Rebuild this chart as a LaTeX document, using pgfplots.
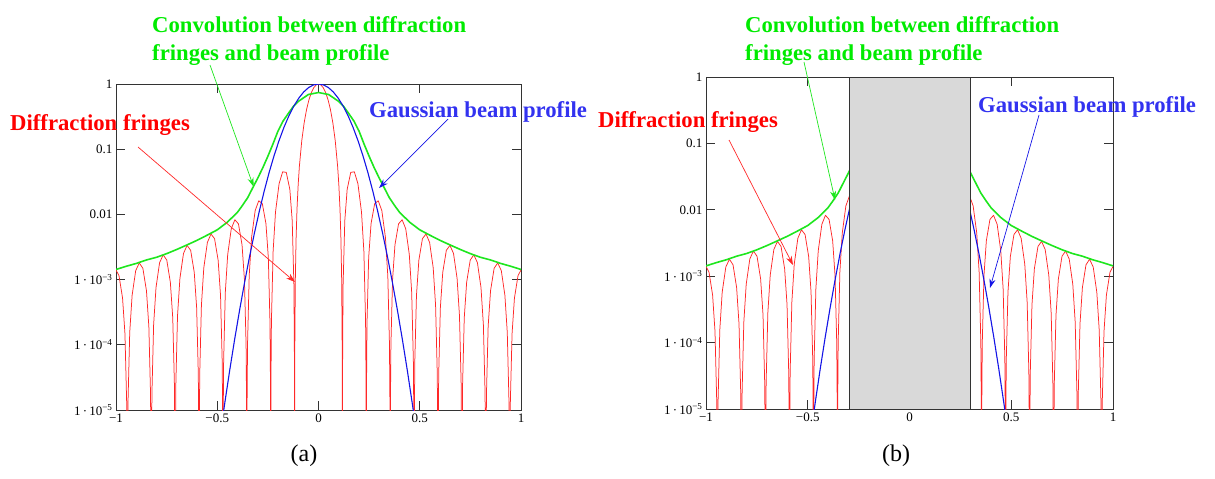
\documentclass[border=0pt]{standalone}
\usepackage{fontspec}
\setmainfont{Liberation Serif}
\usepackage{pgfplots}
\pgfplotsset{compat=1.18}
\usepackage{pgfplotstable}
\usetikzlibrary{arrows.meta}
\definecolor{cred}{RGB}{255,0,0}
\definecolor{cline}{RGB}{255,40,40}
\definecolor{cgreen}{RGB}{0,235,0}
\definecolor{cgline}{RGB}{30,230,30}
\definecolor{cblue}{RGB}{50,50,240}
\definecolor{cbline}{RGB}{20,20,230}
\definecolor{cgray}{RGB}{217,217,217}

\pgfplotstableread{
x y
0 1
0.0118 0.9675
0.0236 0.875
0.0354 0.7368
0.0472 0.5728
0.059 0.4053
0.0708 0.2546
0.0826 0.1353
0.0944 0.0547
0.1003 0.02889
0.1062 0.01195
0.1109 0.004025
0.1145 9.53e-4
0.1168 1.02e-4
0.118 1e-8
0.11918 9.80e-5
0.12154 8.45e-4
0.1298 8.00e-3
0.1416 0.02431
0.1593 0.04414
0.177 0.04503
0.1947 0.02955
0.2124 0.01080
0.2242 2.680e-3
0.23246 2.311e-4
0.23482 2.525e-5
0.236 1e-8
0.23718 2.475e-5
0.23954 2.176e-4
0.2478 2.194e-3
0.2596 7.233e-3
0.2773 0.014566
0.295 0.016211
0.3127 0.011455
0.3304 4.465e-3
0.3422 1.1505e-3
0.35046 1.0166e-4
0.35282 1.1186e-5
0.354 1e-8
0.35518 1.1038e-5
0.35754 9.767e-5
0.3658 1.0069e-3
0.3776 3.4186e-3
0.3953 7.168e-3
0.413 8.271e-3
0.4307 6.038e-3
0.4484 2.4243e-3
0.4602 6.362e-4
0.46846 5.689e-5
0.47082 6.282e-6
0.472 1e-8
0.47318 6.219e-6
0.47554 5.521e-5
0.4838 5.756e-4
0.4956 1.9845e-3
0.5133 4.251e-3
0.531 5.004e-3
0.5487 3.720e-3
0.5664 1.5194e-3
0.5782 4.030e-4
0.58646 3.630e-5
0.58882 4.016e-6
0.59 1e-8
0.59118 3.984e-6
0.59354 3.544e-5
0.6018 3.720e-4
0.6136 1.2946e-3
0.6313 2.810e-3
0.649 3.3495e-3
0.6667 2.5199e-3
0.6844 1.0406e-3
0.6962 2.780e-4
0.70446 2.516e-5
0.70682 2.787e-6
0.708 1e-8
0.70918 2.769e-6
0.71154 2.466e-5
0.7198 2.600e-4
0.7316 9.107e-4
0.7493 1.9949e-3
0.767 2.3981e-3
0.7847 1.8190e-3
0.8024 7.571e-4
0.8142 2.032e-4
0.82246 1.8458e-5
0.82482 2.047e-6
0.826 1e-8
0.82718 2.035e-6
0.82954 1.8144e-5
0.8378 1.9195e-4
0.8496 6.753e-4
0.8673 1.4890e-3
0.885 1.8013e-3
0.9027 1.3745e-3
0.9204 5.754e-4
0.9322 1.5504e-4
0.94046 1.4117e-5
0.94282 1.5665e-6
0.944 1e-8
0.94518 1.5587e-6
0.94754 1.3906e-5
0.9558 1.4748e-4
0.9676 5.206e-4
0.9853 1.1537e-3
1.0 1.4020e-3
}\redpos

\pgfplotstableread{
x y
0 1
-0.0118 0.9675
-0.0236 0.875
-0.0354 0.7368
-0.0472 0.5728
-0.059 0.4053
-0.0708 0.2546
-0.0826 0.1353
-0.0944 0.0547
-0.1003 0.02889
-0.1062 0.01195
-0.1109 0.004025
-0.1145 9.53e-4
-0.1168 1.02e-4
-0.118 1e-8
-0.11918 9.80e-5
-0.12154 8.45e-4
-0.1298 8.00e-3
-0.1416 0.02431
-0.1593 0.04414
-0.177 0.04503
-0.1947 0.02955
-0.2124 0.01080
-0.2242 2.680e-3
-0.23246 2.311e-4
-0.23482 2.525e-5
-0.236 1e-8
-0.23718 2.475e-5
-0.23954 2.176e-4
-0.2478 2.194e-3
-0.2596 7.233e-3
-0.2773 0.014566
-0.295 0.016211
-0.3127 0.011455
-0.3304 4.465e-3
-0.3422 1.1505e-3
-0.35046 1.0166e-4
-0.35282 1.1186e-5
-0.354 1e-8
-0.35518 1.1038e-5
-0.35754 9.767e-5
-0.3658 1.0069e-3
-0.3776 3.4186e-3
-0.3953 7.168e-3
-0.413 8.271e-3
-0.4307 6.038e-3
-0.4484 2.4243e-3
-0.4602 6.362e-4
-0.46846 5.689e-5
-0.47082 6.282e-6
-0.472 1e-8
-0.47318 6.219e-6
-0.47554 5.521e-5
-0.4838 5.756e-4
-0.4956 1.9845e-3
-0.5133 4.251e-3
-0.531 5.004e-3
-0.5487 3.720e-3
-0.5664 1.5194e-3
-0.5782 4.030e-4
-0.58646 3.630e-5
-0.58882 4.016e-6
-0.59 1e-8
-0.59118 3.984e-6
-0.59354 3.544e-5
-0.6018 3.720e-4
-0.6136 1.2946e-3
-0.6313 2.810e-3
-0.649 3.3495e-3
-0.6667 2.5199e-3
-0.6844 1.0406e-3
-0.6962 2.780e-4
-0.70446 2.516e-5
-0.70682 2.787e-6
-0.708 1e-8
-0.70918 2.769e-6
-0.71154 2.466e-5
-0.7198 2.600e-4
-0.7316 9.107e-4
-0.7493 1.9949e-3
-0.767 2.3981e-3
-0.7847 1.8190e-3
-0.8024 7.571e-4
-0.8142 2.032e-4
-0.82246 1.8458e-5
-0.82482 2.047e-6
-0.826 1e-8
-0.82718 2.035e-6
-0.82954 1.8144e-5
-0.8378 1.9195e-4
-0.8496 6.753e-4
-0.8673 1.4890e-3
-0.885 1.8013e-3
-0.9027 1.3745e-3
-0.9204 5.754e-4
-0.9322 1.5504e-4
-0.94046 1.4117e-5
-0.94282 1.5665e-6
-0.944 1e-8
-0.94518 1.5587e-6
-0.94754 1.3906e-5
-0.9558 1.4748e-4
-0.9676 5.206e-4
-0.9853 1.1537e-3
-1.0 1.4020e-3
}\redneg

\pgfplotstableread{
x y
-0.4875 3.73e-6
-0.4631 1.262e-5
-0.4388 4.009e-5
-0.4144 1.196e-4
-0.39 3.355e-4
-0.3656 8.84e-4
-0.3413 2.187e-3
-0.3169 5.088e-3
-0.2925 0.01111
-0.2681 0.02280
-0.2438 0.04394
-0.2194 0.0796
-0.195 0.1353
-0.1706 0.2163
-0.1463 0.3247
-0.1219 0.4578
-0.0975 0.6065
-0.0731 0.7548
-0.0488 0.8825
-0.0244 0.9692
0 1
0.0244 0.9692
0.0488 0.8825
0.0731 0.7548
0.0975 0.6065
0.1219 0.4578
0.1463 0.3247
0.1706 0.2163
0.195 0.1353
0.2194 0.0796
0.2438 0.04394
0.2681 0.02280
0.2925 0.01111
0.3169 5.088e-3
0.3413 2.187e-3
0.3656 8.84e-4
0.39 3.355e-4
0.4144 1.196e-4
0.4388 4.009e-5
0.4631 1.262e-5
0.4875 3.73e-6
}\gauss

\pgfplotstableread{
x y
-1.0 0.00143
-0.95 0.00160
-0.9 0.00177
-0.85 0.0020
-0.8 0.0022
-0.75 0.0025
-0.7 0.0029
-0.65 0.0034
-0.6 0.0040
-0.55 0.0048
-0.5 0.0058
-0.45 0.0076
-0.4 0.0108
-0.375 0.0138
-0.35 0.018
-0.325 0.0255
-0.3 0.036
-0.275 0.052
-0.25 0.078
-0.225 0.12
-0.2 0.19
-0.175 0.27
-0.15 0.35
-0.125 0.45
-0.1 0.54
-0.05 0.69
0 0.74
0.05 0.69
0.1 0.54
0.125 0.45
0.15 0.35
0.175 0.27
0.2 0.19
0.225 0.12
0.25 0.078
0.275 0.052
0.3 0.036
0.325 0.0255
0.35 0.018
0.375 0.0138
0.4 0.0108
0.45 0.0076
0.5 0.0058
0.55 0.0048
0.6 0.0040
0.65 0.0034
0.7 0.0029
0.75 0.0025
0.8 0.0022
0.85 0.0020
0.9 0.00177
0.95 0.00160
1.0 0.00143
}\conv

\tikzset{
  redc/.style={draw=cline, line width=0.75pt, line join=round},
  bluec/.style={draw=cbline, line width=1.1pt, line join=round},
  greenc/.style={draw=cgline, line width=1.6pt, line join=round},
  arr/.style={line width=0.7pt, -{Stealth[length=9pt,width=6pt]}},
}
\newcommand\ann{\fontsize{22.7}{28}\selectfont\bfseries}

\begin{document}
\begin{tikzpicture}[x=1pt,y=1pt]
\path[use as bounding box] (0,0) rectangle (1215,-479);

% Panel (a)
\begin{axis}[at={(116pt,-410pt)}, anchor=south west, width=405pt, height=326pt, scale only axis,
    ymode=log, xmin=-1, xmax=1, ymin=1e-5, ymax=1,
    xtick={-1,-0.5,0,0.5,1},
    xticklabels={−1,−0.5,0,0.5,1},
    ytick={1e-5,1e-4,1e-3,0.01,0.1,1},
    yticklabels={1\,·\,10\textsuperscript{−5},1\,·\,10\textsuperscript{−4},1\,·\,10\textsuperscript{−3},0.01,0.1,1},
    tick align=inside, major tick length=9pt, minor tick length=0pt,
    tick style={black!80, line width=0.8pt},
    axis line style={black!80, line width=1pt},
    tick label style={font=\fontsize{13}{15}\selectfont}]
\addplot[redc] table {\redneg};
\addplot[redc] table {\redpos};
\addplot[greenc] table {\conv};
\addplot[bluec] table {\gauss};
\end{axis}

% Panel (b)
\begin{axis}[at={(706pt,-409pt)}, anchor=south west, width=407pt, height=332pt, scale only axis,
    ymode=log, xmin=-1, xmax=1, ymin=1e-5, ymax=1,
    xtick={-1,-0.5,0,0.5,1},
    xticklabels={−1,−0.5,0,0.5,1},
    ytick={1e-5,1e-4,1e-3,0.01,0.1,1},
    yticklabels={1\,·\,10\textsuperscript{−5},1\,·\,10\textsuperscript{−4},1\,·\,10\textsuperscript{−3},0.01,0.1,1},
    tick align=inside, major tick length=9pt, minor tick length=0pt,
    tick style={black!80, line width=0.8pt},
    axis line style={black!80, line width=1pt},
    tick label style={font=\fontsize{13}{15}\selectfont}]
\addplot[redc] table {\redneg};
\addplot[redc] table {\redpos};
\addplot[greenc] table {\conv};
\addplot[bluec] table {\gauss};
\addplot[fill=cgray, draw=black!80, line width=0.9pt] coordinates {(-0.295,1e-5) (-0.295,1) (0.298,1) (0.298,1e-5)} -- cycle;
\end{axis}

% annotations (a)
\node[anchor=base west, inner sep=0, text=cgreen, font=\ann] at (152,-32) {Convolution between diffraction};
\node[anchor=base west, inner sep=0, text=cgreen, font=\ann] at (152,-60) {fringes and beam profile};
\draw[arr, cgline] (210,-65) -- (253.6,-186.7);
\node[anchor=base west, inner sep=0, text=cred, font=\ann] at (10,-130) {Diffraction fringes};
\draw[arr, cline] (138,-147) -- (295,-282);
\node[anchor=base west, inner sep=0, text=cblue, font=\ann] at (369,-117) {Gaussian beam profile};
\draw[arr, cbline] (448,-119) -- (379,-188);

% annotations (b)
\node[anchor=base west, inner sep=0, text=cgreen, font=\ann] at (745,-32) {Convolution between diffraction};
\node[anchor=base west, inner sep=0, text=cgreen, font=\ann] at (745,-60) {fringes and beam profile};
\draw[arr, cgline] (804,-62) -- (835,-200);
\node[anchor=base west, inner sep=0, text=cred, font=\ann] at (598,-127) {Diffraction fringes};
\draw[arr, cline] (729,-140) -- (793,-265);
\node[anchor=base west, inner sep=0, text=cblue, font=\ann] at (978,-112) {Gaussian beam profile};
\draw[arr, cbline] (1039,-115) -- (990,-288);

% captions
\node[font=\fontsize{24}{28}\selectfont] at (304,-456) {(a)};
\node[font=\fontsize{24}{28}\selectfont] at (896,-456) {(b)};
\end{tikzpicture}
\end{document}
